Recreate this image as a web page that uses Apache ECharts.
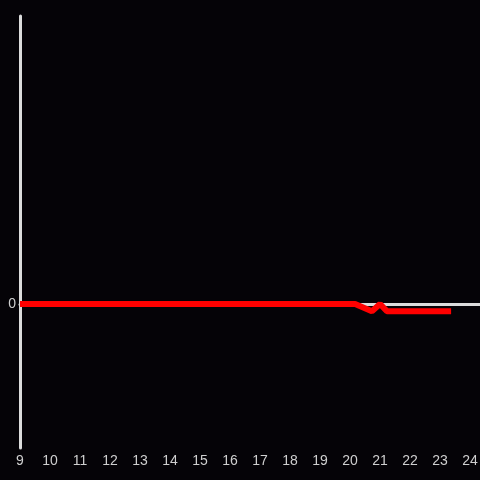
<!DOCTYPE html>
<html>
<head>
<meta charset="utf-8">
<script src="https://cdn.jsdelivr.net/npm/echarts@6/dist/echarts.min.js"></script>
<style>
html,body{margin:0;padding:0;background:#050307;}
#main{width:480px;height:480px;}
</style>
</head>
<body>
<div id="main"></div>
<script>
// x positions (hours) and values
let xs = [9, 20.17, 20.73, 21.0, 21.23, 23.37];
let ys = [0, 0, -0.05, 0, -0.05, -0.05];
let xMin = 9, xMax = 24.333;
let yMin = -1, yMax = 2;

let lineData = [];
for (let i = 0; i < xs.length; i++) {
    lineData.push([xs[i], ys[i]]);
}

var myChart = echarts.init(document.getElementById('main'));
var option = {
    backgroundColor: '#050307',
    animation: false,
    grid: {left: 20, right: 0, top: 16, bottom: 32, containLabel: false, outerBoundsMode: 'none'},
    xAxis: [{
        type: 'value',
        min: xMin,
        max: xMax,
        interval: 1,
        axisLine: {show: true, onZero: true, lineStyle: {color: '#dcdcdc', width: 3}},
        axisTick: {show: false},
        splitLine: {show: false},
        axisLabel: {show: false}
    }, {
        type: 'value',
        position: 'bottom',
        min: xMin,
        max: xMax,
        interval: 1,
        axisLine: {show: false, onZero: false},
        axisTick: {show: false},
        splitLine: {show: false},
        axisLabel: {
            color: '#cfcfcf',
            fontSize: 14,
            margin: 6,
            formatter: function (v) {
                return Math.abs(v - Math.round(v)) < 1e-6 ? String(Math.round(v)) : '';
            }
        }
    }],
    yAxis: {
        type: 'value',
        min: yMin,
        max: yMax,
        interval: 1,
        axisLine: {show: true, lineStyle: {color: '#dcdcdc', width: 3}},
        axisTick: {show: false},
        splitLine: {show: false},
        axisLabel: {
            color: '#cfcfcf',
            fontSize: 14,
            margin: 4,
            formatter: function (v) { return v === 0 ? '0' : ''; }
        }
    },
    series: [{
        type: 'line',
        xAxisIndex: 0,
        data: lineData,
        symbol: 'none',
        lineStyle: {color: '#ff0000', width: 6}
    }]
};
myChart.setOption(option);
</script>
</body>
</html>
